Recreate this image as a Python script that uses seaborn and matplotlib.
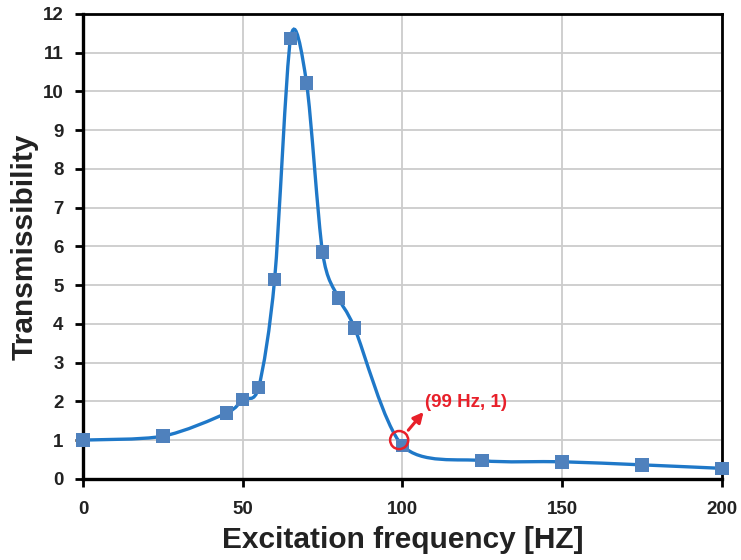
import matplotlib
matplotlib.use("Agg")
import matplotlib.pyplot as plt
from matplotlib.path import Path
from matplotlib.patches import PathPatch
import seaborn as sns
import pandas as pd

# measured points (excitation frequency in Hz, transmissibility)
freq = [0, 25, 45, 50, 55, 60, 65, 70, 75, 80, 85, 100, 125, 150, 175, 200]
trans = [1.0, 1.1, 1.7, 2.05, 2.36, 5.15, 11.37, 10.22, 5.85, 4.67, 3.9, 0.86, 0.47, 0.44, 0.36, 0.27]

# highlighted crossing point
cross_x, cross_y = 99, 1.0
cross_label = "(99 Hz, 1)"

x_ticks = [0, 50, 100, 150, 200]
y_ticks = list(range(0, 13))

line_col = "#1f78c8"
mark_col = "#4f81bd"

sns.set_theme(style="whitegrid")
plt.rcParams['font.family'] = ['Liberation Sans', 'DejaVu Sans']
plt.rcParams['font.weight'] = 'bold'

fig = plt.figure(figsize=(7.41, 5.6), dpi=100)
ax = fig.add_axes([0.112, 0.145, 0.862, 0.83])

df = pd.DataFrame({"freq": freq, "trans": trans})

# smoothed line like a spreadsheet "smooth line" (bezier through the points)
k = 1 / 7
verts = [(freq[0], trans[0])]
codes = [Path.MOVETO]
n = len(freq)
for i in range(n - 1):
    p0 = max(i - 1, 0)
    p3 = min(i + 2, n - 1)
    c1 = (freq[i] + (freq[i + 1] - freq[p0]) * k, trans[i] + (trans[i + 1] - trans[p0]) * k)
    c2 = (freq[i + 1] - (freq[p3] - freq[i]) * k, trans[i + 1] - (trans[p3] - trans[i]) * k)
    verts += [c1, c2, (freq[i + 1], trans[i + 1])]
    codes += [Path.CURVE4] * 3
ax.add_patch(PathPatch(Path(verts, codes), facecolor="none", edgecolor=line_col, lw=2.4, zorder=3))

sns.scatterplot(data=df, x="freq", y="trans", marker="s", s=95, color=mark_col,
                edgecolor="none", ax=ax, zorder=4, clip_on=False)

# annotation of the crossing point
ax.scatter([cross_x], [cross_y], s=170, facecolors="none", edgecolors="#e8202a", linewidths=1.8, zorder=5)
ax.annotate("", xy=(107.2, 1.78), xytext=(101.3, 1.2),
            arrowprops=dict(arrowstyle="-|>", color="#e8202a", lw=2.2, mutation_scale=15), zorder=5)
ax.text(107.0, 1.98, cross_label, color="#e8202a", fontsize=13.5, fontweight="bold", va="center", ha="left")

ax.set_xlim(0, 200)
ax.set_ylim(0, 12)
ax.set_xticks(x_ticks)
ax.set_yticks(y_ticks)
ax.grid(True, color="#cccccc", lw=1.3)
ax.set_axisbelow(True)
for s in ax.spines.values():
    s.set_color("black")
    s.set_linewidth(2)
ax.spines['left'].set_linewidth(2.4)
ax.spines['bottom'].set_linewidth(2.4)

ax.tick_params(axis="both", which="major", direction="out", length=6, width=2, color="black",
               labelsize=13.5, labelcolor="#222222", bottom=True, left=True)
ax.tick_params(axis="x", pad=10)
ax.tick_params(axis="y", pad=8)
ax.set_xlabel("Excitation frequency [HZ]", fontsize=21.5, fontweight="bold", color="#222222", labelpad=6)
ax.set_ylabel("Transmissibility", fontsize=21.5, fontweight="bold", color="#222222", labelpad=3)

fig.savefig("out.png", dpi=100, facecolor="white")
